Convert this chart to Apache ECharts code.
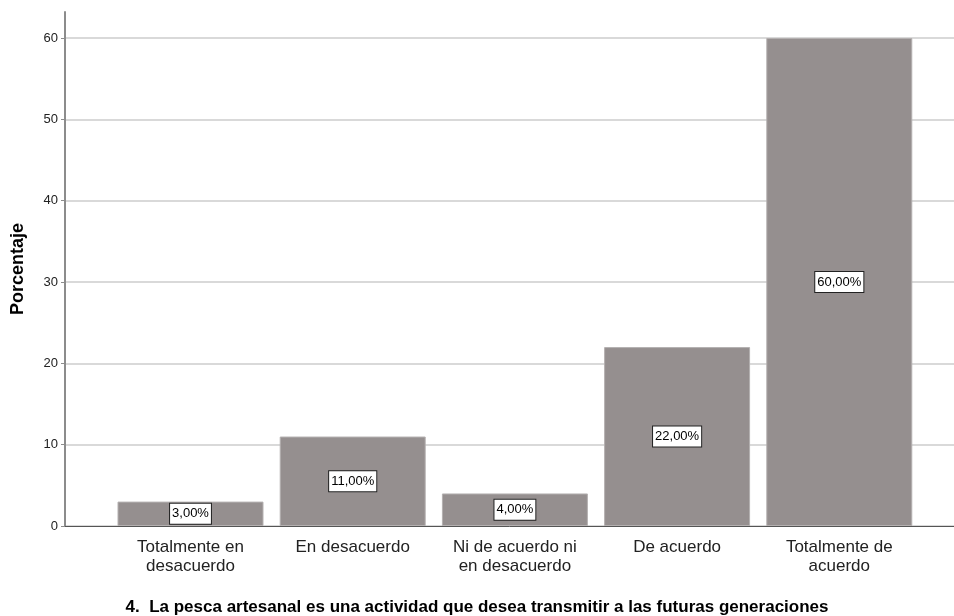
<!DOCTYPE html>
<html>
<head>
<meta charset="utf-8">
<script src="https://cdn.jsdelivr.net/npm/echarts@6/dist/echarts.min.js"></script>
<style>html,body{margin:0;padding:0;background:#fff;}#c{width:954px;height:616px;}</style>
</head>
<body>
<div id="c"></div>
<script>
const categories = ['Totalmente en\ndesacuerdo', 'En desacuerdo', 'Ni de acuerdo ni\nen desacuerdo', 'De acuerdo', 'Totalmente de\nacuerdo'];
const values = [3, 11, 4, 22, 60];
const yTicks = [0, 10, 20, 30, 40, 50, 60];
const yName = 'Porcentaje';
const xTitle = '4.  La pesca artesanal es una actividad que desea transmitir a las futuras generaciones';

const FONT = '"Liberation Sans", Arial, sans-serif';
const chart = echarts.init(document.getElementById('c'), null, {renderer: 'canvas'});
const yMax = yTicks[yTicks.length - 1];
const yStep = yTicks[1] - yTicks[0];

chart.setOption({
  animation: false,
  backgroundColor: '#ffffff',
  title: {
    text: xTitle,
    left: 'center',
    top: 594,
    textStyle: {fontFamily: FONT, fontWeight: 'bold', fontSize: 17, color: '#000'}
  },
  grid: [
    {left: 65, right: 0, top: 12, bottom: 90},
    {left: 65, right: 0, top: 38, bottom: 90},
    {left: 109.4, right: 33.6, top: 38, bottom: 90}
  ],
  xAxis: [
    {gridIndex: 0, type: 'value', show: false},
    {gridIndex: 1, type: 'value', min: 0, max: 1,
     axisLine: {show: true, lineStyle: {color: '#555', width: 1}},
     axisTick: {show: false}, axisLabel: {show: false}, splitLine: {show: false}},
    {gridIndex: 2, type: 'category', data: categories,
     axisLine: {show: false}, axisTick: {show: false},
     axisLabel: {fontFamily: FONT, fontSize: 17, color: '#222', lineHeight: 19, margin: 12, interval: 0}}
  ],
  yAxis: [
    {gridIndex: 0, type: 'value', min: 0, max: yMax + 3.2,
     name: yName, nameLocation: 'middle', nameRotate: 90, nameGap: 38,
     nameTextStyle: {fontFamily: FONT, fontWeight: 'bold', fontSize: 18, color: '#000'},
     axisLine: {show: true, lineStyle: {color: '#8c8c8c', width: 2}},
     axisTick: {show: false}, axisLabel: {show: false}, splitLine: {show: false}},
    {gridIndex: 1, type: 'value', min: 0, max: yMax, interval: yStep,
     axisLine: {show: false},
     axisTick: {show: true, length: 4, lineStyle: {color: '#8c8c8c'}},
     axisLabel: {fontFamily: FONT, fontSize: 13, color: '#222', margin: 7},
     splitLine: {show: true, lineStyle: {color: '#cccccc', width: 1.5}}},
    {gridIndex: 2, type: 'value', min: 0, max: yMax, show: false}
  ],
  series: [{
    type: 'bar',
    xAxisIndex: 2,
    yAxisIndex: 2,
    data: values,
    barWidth: '90%',
    itemStyle: {color: '#958f8f', borderColor: '#b4b0b0', borderWidth: 1},
    label: {
      show: true,
      position: 'inside',
      formatter: p => p.value.toFixed(2).replace('.', ',') + '%',
      fontFamily: FONT,
      fontSize: 13,
      color: '#000',
      backgroundColor: '#fff',
      borderColor: '#222',
      borderWidth: 1,
      padding: [4, 2, 3, 2]
    }
  }]
});
</script>
</body>
</html>
